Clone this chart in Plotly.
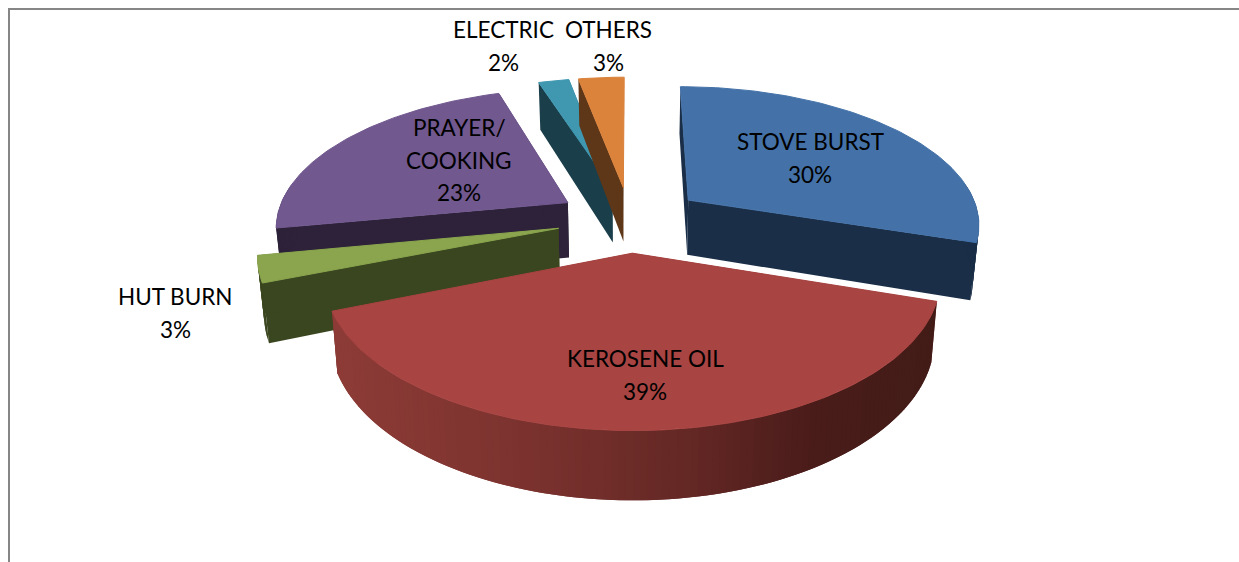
import numpy as np
import plotly.graph_objects as go

# ---- data ----
categories = ["STOVE BURST", "KEROSENE OIL", "HUT BURN", "PRAYER/<br>COOKING", "ELECTRIC", "OTHERS"]
values = [30, 39, 3, 23, 2, 3]
top_colors = ["#4472A8", "#A84442", "#8AA54E", "#71588F", "#3F97B0", "#DB823B"]
side_colors = ["#1A2E47", "#5E2623", "#3A461F", "#2D2239", "#1A3E4A", "#5E3718"]

# ---- projection of the tilted pie (scale constants) ----
CX, CY, RX, RY, PERSP = 630.0, 219.0, 292.0, 137.0, 0.159
EXPLODE_U, EXPLODE_V = 0.252, 0.24
DEPTH, BOTTOM_SHRINK = 56.0, 0.982
label_pos = [(810, 158), (645, 375), (175, 313), (459, 160), (503, 46), (608, 46)]
draw_order = [4, 5, 3, 0, 2, 1]
LINE_STEP = 32.5
WIDTH, HEIGHT = 1239, 562


def project(u, v, bottom=False):
    s = 1.0 / (1.0 + PERSP * v)
    x = CX + RX * u * s
    y = CY - RY * v * s
    if bottom:
        x = CX + (x - CX) * BOTTOM_SHRINK
        y = y + DEPTH * s
    return x, y


def poly(xs, ys, color, lw=0.0):
    return go.Scatter(x=list(xs), y=list(ys), mode="lines", fill="toself", fillcolor=color,
                      line=dict(color=color, width=lw), hoverinfo="skip", showlegend=False)


def lerp_hex(stops, t):
    t = min(max(t, 0), 1)
    pos = [p for p, _ in stops]
    rgb = [[int(c[i:i + 2], 16) for i in (1, 3, 5)] for _, c in stops]
    ch = [np.interp(t, pos, [c[k] for c in rgb]) for k in range(3)]
    return "rgb(%d,%d,%d)" % tuple(ch)


kerosene_wall = [(0, "#8E3C37"), (0.35, "#7A322E"), (0.6, "#642825"), (0.8, "#4A1C1A"), (1, "#431C18")]

fractions = np.array(values, dtype=float) / sum(values)
edges = np.concatenate([[0], np.cumsum(fractions)]) * 2 * np.pi

fig = go.Figure()
for i in draw_order:
    a0, a1 = edges[i], edges[i + 1]
    mid = (a0 + a1) / 2
    ou, ov = EXPLODE_U * np.sin(mid), EXPLODE_V * np.cos(mid)
    th = np.linspace(a0, a1, max(8, int((a1 - a0) * 50)))
    us, vs = ou + np.sin(th), ov + np.cos(th)

    # radial walls
    for a in (a0, a1):
        u_e, v_e = ou + np.sin(a), ov + np.cos(a)
        p = [project(ou, ov), project(u_e, v_e), project(u_e, v_e, True), project(ou, ov, True)]
        fig.add_trace(poly([q[0] for q in p] + [p[0][0]], [q[1] for q in p] + [p[0][1]], side_colors[i]))

    # outer curved wall, in overlapping strips so that the shading can run across it
    n = len(th)
    for k in range(n - 1):
        if vs[k] > ov + 0.1 and vs[min(k + 2, n - 1)] > ov + 0.1:
            continue
        k2 = min(k + 2, n - 1)
        p = [project(us[k], vs[k]), project(us[k2], vs[k2]),
             project(us[k2], vs[k2], True), project(us[k], vs[k], True)]
        if i == 1:
            col = lerp_hex(kerosene_wall, (p[0][0] - 332) / (937 - 332))
        else:
            col = side_colors[i]
        fig.add_trace(poly([q[0] for q in p] + [p[0][0]], [q[1] for q in p] + [p[0][1]], col))

    # top face
    tx, ty = project(ou, ov)
    ax, ay = project(us, vs)
    fig.add_trace(poly(np.concatenate([[tx], ax, [tx]]), np.concatenate([[ty], ay, [ty]]), top_colors[i], 1.0))

annotations = []
for c, v, (x, y) in zip(categories, values, label_pos):
    lines = c.split("<br>") + [f"{v}%"]
    for j, line in enumerate(lines):
        annotations.append(dict(
            x=x, y=y + (j - (len(lines) - 1) / 2) * LINE_STEP, xref="x", yref="y",
            showarrow=False, align="center", text=line,
            font=dict(family="Lato, Carlito, sans-serif", size=22.5, color="#000000")))

frame = dict(color="#868686", width=2)
fig.update_layout(
    width=WIDTH, height=HEIGHT, autosize=False,
    margin=dict(l=0, r=0, t=0, b=0),
    paper_bgcolor="#FFFFFF", plot_bgcolor="#FFFFFF",
    showlegend=False,
    xaxis=dict(range=[0, WIDTH], visible=False, fixedrange=True),
    yaxis=dict(range=[HEIGHT, 0], visible=False, fixedrange=True),
    annotations=annotations,
    shapes=[dict(type="line", x0=9, x1=9, y0=8, y1=HEIGHT, line=frame),
            dict(type="line", x0=8, x1=WIDTH, y0=9, y1=9, line=frame)],
)
fig.write_html("out.html", config=dict(displayModeBar=False),
               default_width=f"{WIDTH}px", default_height=f"{HEIGHT}px",
               post_script="document.body.style.margin='0';document.documentElement.style.overflow='hidden';")
